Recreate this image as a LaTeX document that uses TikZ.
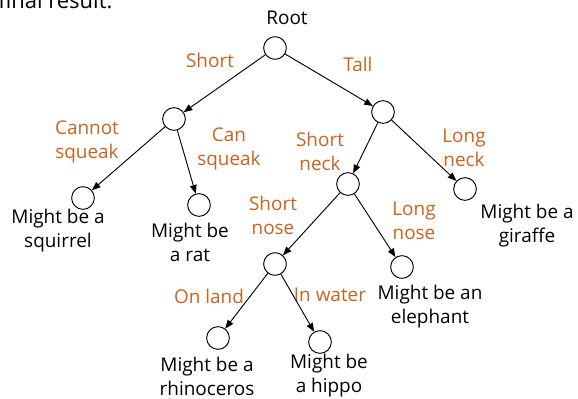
\documentclass[tikz,border=0pt]{standalone}
\usepackage{fontspec}
\setmainfont{Open Sans}
\usetikzlibrary{arrows.meta}
\definecolor{lblc}{RGB}{200,100,30}
\begin{document}
\begin{tikzpicture}[x=0.75pt,y=-0.75pt,
  state/.style={circle,draw,line width=0.7pt,minimum size=17pt,inner sep=0pt},
  lbl/.style={text=lblc,font=\fontsize{14.2}{18}\selectfont,align=center,inner sep=0pt},
  txt/.style={font=\fontsize{14.2}{18}\selectfont,align=center,inner sep=0pt},
  arr/.style={-{Triangle[length=6.5pt,width=5pt]},line width=0.7pt}]
\useasboundingbox (0,0) rectangle (578,399);
\clip (0,0) rectangle (578,399);
% cropped heading text
\node[anchor=base west,inner sep=0pt,font=\fontsize{16.5}{20}\selectfont] (head) at (-2,9) {final result.};
% nodes
\node[state] (root) at (275,48) {};
\node[txt] (roott) at (287,18) {Root};
\node[state] (short) at (174,119) {};
\node[state] (tall) at (383,112) {};
\node[state] (squirrel) at (83,198) {};
\node[state] (rat) at (199,205) {};
\node[state] (sneck) at (348,184) {};
\node[state] (giraffe) at (465,189) {};
\node[state] (snose) at (275,264) {};
\node[state] (elephant) at (402,267) {};
\node[state] (rhino) at (218,338) {};
\node[state] (hippo) at (320,342) {};
% leaf texts
\node[txt] (squirrelt) at (58,231) {Might be a\\squirrel};
\node[txt] (ratt) at (190,242) {Might be\\a rat};
\node[txt] (giraffet) at (527,226) {Might be a\\giraffe};
\node[txt] (elephantt) at (430,307) {Might be an\\elephant};
\node[txt] (rhinot) at (207,376) {Might be a\\rhinoceros};
\node[txt] (hippot) at (329,376) {Might be\\a hippo};
% edge labels
\node[lbl] (l1) at (210,60) {Short};
\node[lbl] (l2) at (358,64) {Tall};
\node[lbl] (l3) at (87,142) {Cannot\\squeak};
\node[lbl] (l4) at (229,149) {Can\\squeak};
\node[lbl] (l5) at (320,151) {Short\\neck};
\node[lbl] (l6) at (464,148) {Long\\neck};
\node[lbl] (l7) at (273,215) {Short\\nose};
\node[lbl] (l8) at (414,221) {Long\\nose};
\node[lbl] (l9) at (209,296) {On land};
\node[lbl] (l10) at (330,295) {In water};
% edges
\draw[arr] (root) -- (short);
\draw[arr] (root) -- (tall);
\draw[arr] (short) -- (squirrel);
\draw[arr] (short) -- (rat);
\draw[arr] (tall) -- (sneck);
\draw[arr] (tall) -- (giraffe);
\draw[arr] (sneck) -- (snose);
\draw[arr] (sneck) -- (elephant);
\draw[arr] (snose) -- (rhino);
\draw[arr] (snose) -- (hippo);
\end{tikzpicture}
\end{document}
